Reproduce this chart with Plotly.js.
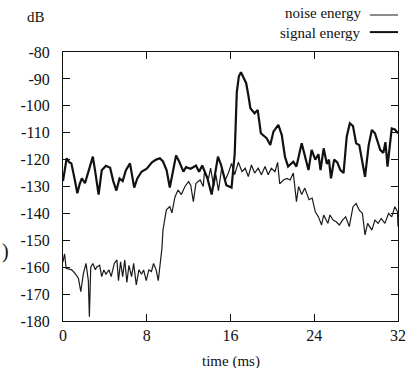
<!DOCTYPE html>
<html>
<head>
<meta charset="utf-8">
<script src="https://cdn.plot.ly/plotly-3.0.1.min.js"></script>
<style>html,body{margin:0;padding:0;background:#fff;}#chart{width:416px;height:368px;}</style>
</head>
<body>
<div id="chart"></div>
<script>
var signalT = [0,0.35,0.6,0.8,1.1,1.37,1.6,1.8,2.1,2.45,2.85,3.1,3.4,3.7,4.1,4.5,4.8,5.1,5.4,5.7,6.0,6.4,6.8,7.1,7.5,8.0,8.5,8.9,9.25,9.55,9.9,10.2,10.5,10.8,11.1,11.5,11.75,12.2,12.7,13.0,13.3,13.8,14.2,14.8,15.1,15.6,16.1,16.3,16.4,16.6,16.8,17.0,17.2,17.5,17.7,17.9,18.3,18.6,18.9,19.45,19.8,20.1,20.57,20.9,21.2,21.5,22.0,22.3,22.8,23.1,23.45,23.75,24.1,24.4,24.6,24.9,25.2,25.4,25.6,25.9,26.2,26.5,26.8,27.1,27.4,27.7,28.0,28.3,28.85,29.2,29.5,29.8,30.3,30.6,30.8,31.0,31.4,31.7,32.0];
var signalV = [-128,-119.5,-121,-121.4,-127,-132.5,-129,-127,-128.8,-124,-118.9,-125,-133,-124,-122.3,-123,-128,-131.5,-127,-128,-124,-121.4,-130.4,-127,-124.5,-123.4,-121,-120,-119.5,-120.7,-124,-130.4,-124.5,-118.5,-120.7,-124.5,-122.8,-123.4,-122.2,-124.5,-122.2,-127,-133,-118.9,-122,-129.5,-130.4,-121,-118,-95,-89,-87.5,-89,-91.6,-96,-100.9,-102.8,-101.6,-110.2,-112,-114.6,-109.6,-107.1,-110.9,-118.9,-122.6,-120.8,-122.6,-113.9,-118.3,-123.9,-116.4,-120,-118,-123.9,-115.8,-121.6,-120,-127,-120,-121,-123.9,-125,-111.5,-106.5,-107.5,-113.9,-114.6,-126.4,-114.6,-109,-110.2,-116.4,-117.5,-113.5,-122.6,-108.4,-108.8,-110.2];

var noiseT = [0,0.15,0.3,0.83,1.15,1.47,1.7,1.95,2.2,2.42,2.52,2.65,2.85,3.1,3.2,3.5,3.7,3.9,4.1,4.4,4.6,4.9,5.15,5.3,5.5,5.7,5.9,6.1,6.3,6.55,6.75,7.0,7.25,7.5,7.7,7.95,8.2,8.45,8.65,8.9,9.1,9.45,9.55,9.87,10.2,10.4,10.7,11.0,11.3,11.65,12.0,12.2,12.45,12.7,13.1,13.4,13.5,13.9,14.1,14.4,14.6,14.85,15.15,15.5,15.8,16.1,16.4,16.75,17.1,17.4,17.7,18.0,18.3,18.65,18.95,19.3,19.6,19.9,20.25,20.5,20.7,21.05,21.4,21.7,22.0,22.3,22.5,22.8,23.1,23.5,23.8,24.1,24.4,24.7,24.9,25.3,25.5,25.8,26.1,26.4,26.7,27.0,27.35,27.7,28.0,28.3,28.6,28.85,29.1,29.5,29.8,30.1,30.4,30.75,31.1,31.4,31.7,31.95,32.0];
var noiseV = [-158,-155,-160.4,-161,-162.3,-164.1,-169.1,-162.3,-158.6,-165,-178.4,-160,-158.6,-161,-160,-159.3,-163.5,-161,-162.6,-161,-163.5,-158.6,-157.3,-165,-158,-163.5,-157.3,-165.7,-159.3,-163.5,-158.6,-166.6,-161,-162.6,-161,-165,-161,-161.6,-158.6,-161,-165,-153,-146.2,-138.7,-137.5,-139.8,-133.8,-131.3,-133,-130,-128.2,-129.5,-135.6,-128.8,-127.6,-130,-125,-127,-123.2,-130,-125.6,-131.5,-123.4,-127.6,-125,-121.4,-125.6,-121,-124.5,-123.2,-126.3,-122,-125,-123.2,-125.6,-122.6,-125.6,-123.2,-124.5,-121,-129,-127.6,-127,-127.6,-125,-135.6,-130,-133,-130.6,-134.9,-134.3,-139.4,-141.3,-144.3,-140.6,-143.7,-140.6,-142.5,-143.1,-144.3,-142.5,-141.3,-144.9,-137.5,-136.3,-138.8,-140,-148,-143.7,-146.2,-142.5,-143.7,-141.9,-143.7,-140,-141.3,-137.5,-139.4,-144.9];

var xTickVals = [0,8,16,24,32];
var xTickLabels = ["0","8","16","24","32"];
var yTickVals = [-180,-170,-160,-150,-140,-130,-120,-110,-100,-90,-80];
var yTickLabels = ["-180","-170","-160","-150","-140","-130","-120","-110","-100","-90","-80"];
var seriesNames = ["noise energy","signal energy"];
var xTitle = "time (ms)";

var font = "Liberation Serif";
var traces = [
  {x: noiseT, y: noiseV, type: "scatter", mode: "lines", name: seriesNames[0],
   line: {color: "#1a1a1a", width: 1.2}, showlegend: false},
  {x: signalT, y: signalV, type: "scatter", mode: "lines", name: seriesNames[1],
   line: {color: "#111", width: 2.2}, showlegend: false}
];

var layout = {
  width: 416, height: 368,
  margin: {l: 63, r: 18, t: 52, b: 47},
  paper_bgcolor: "#fff", plot_bgcolor: "#fff",
  font: {family: font, color: "#111", size: 15},
  xaxis: {range: [0, 32], tickvals: xTickVals, ticktext: xTickLabels,
    ticks: "inside", ticklen: 7, tickcolor: "#111", mirror: "allticks",
    showline: true, linecolor: "#111", linewidth: 1, showgrid: false, zeroline: false,
    tickfont: {family: font, size: 16, color: "#111"}},
  yaxis: {range: [-180, -80], tickvals: yTickVals, ticktext: yTickLabels,
    ticks: "inside", ticklen: 7, tickcolor: "#111", mirror: "allticks",
    showline: true, linecolor: "#111", linewidth: 1, showgrid: false, zeroline: false,
    ticklabelstandoff: 9,
    tickfont: {family: font, size: 16, color: "#111"}},
  annotations: [
    {text: xTitle, xref: "paper", yref: "paper", x: 0.5, y: -0.152, showarrow: false,
     xanchor: "center", yanchor: "middle", font: {family: font, size: 15, color: "#111"}},
    {text: "dB", xref: "paper", yref: "paper", x: -0.0806, y: 1.130, showarrow: false,
     xanchor: "center", yanchor: "middle", font: {family: font, size: 15, color: "#111"}},
    {text: seriesNames[0], xref: "paper", yref: "paper", x: 0.8955, y: 1.145, showarrow: false,
     xanchor: "right", yanchor: "middle", font: {family: font, size: 15, color: "#111"}},
    {text: seriesNames[1], xref: "paper", yref: "paper", x: 0.8955, y: 1.0706, showarrow: false,
     xanchor: "right", yanchor: "middle", font: {family: font, size: 15, color: "#111"}},
    {text: ")", xref: "paper", yref: "paper", x: -0.188, y: 0.26, showarrow: false,
     xanchor: "left", yanchor: "middle", font: {family: font, size: 20, color: "#111"}}
  ],
  shapes: [
    {type: "line", xref: "paper", yref: "paper", x0: 0.916, x1: 1.0, y0: 1.1375, y1: 1.1375,
     line: {color: "#1a1a1a", width: 1}},
    {type: "line", xref: "paper", yref: "paper", x0: 0.916, x1: 1.0, y0: 1.074, y1: 1.074,
     line: {color: "#111", width: 2}}
  ]
};

Plotly.newPlot("chart", traces, layout, {displayModeBar: false, staticPlot: true});
</script>
</body>
</html>
